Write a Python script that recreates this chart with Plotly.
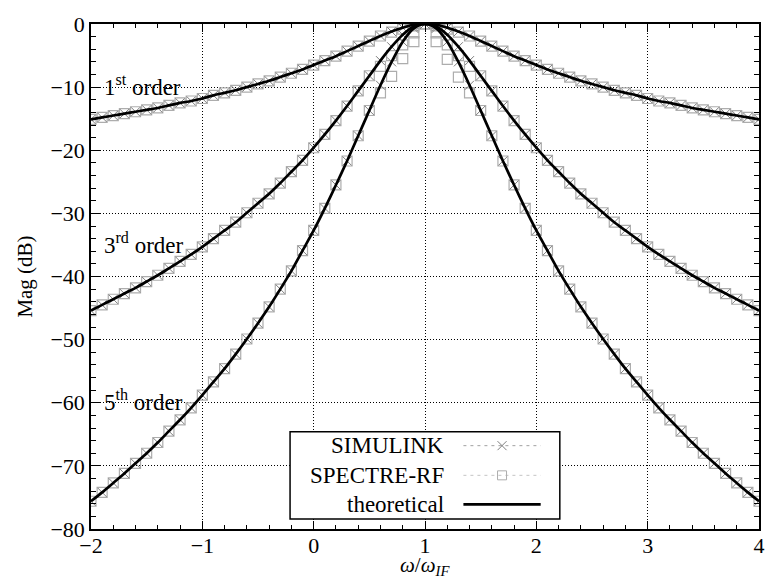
import plotly.graph_objects as go

# ---------------- data ----------------
omega = [-2.0, -1.9, -1.8, -1.7, -1.6, -1.5, -1.4, -1.3, -1.2, -1.1,
         -1.0, -0.9, -0.8, -0.7, -0.6, -0.5, -0.4, -0.3, -0.2, -0.1,
         0.0, 0.1, 0.2, 0.3, 0.4, 0.5, 0.6, 0.7, 0.8, 0.9,
         1.0, 1.1, 1.2, 1.3, 1.4, 1.5, 1.6, 1.7, 1.8, 1.9,
         2.0, 2.1, 2.2, 2.3, 2.4, 2.5, 2.6, 2.7, 2.8, 2.9,
         3.0, 3.1, 3.2, 3.3, 3.4, 3.5, 3.6, 3.7, 3.8, 3.9, 4.0]

order1 = [-15.1, -14.8, -14.5, -14.2, -13.9, -13.6, -13.3, -12.9, -12.5, -12.2,
          -11.8, -11.3, -10.9, -10.5, -10.0, -9.5, -9.0, -8.4, -7.8, -7.2,
          -6.5, -5.8, -5.1, -4.3, -3.5, -2.7, -1.9, -1.2, -0.6, -0.1,
          0.0, -0.1, -0.6, -1.2, -1.9, -2.7, -3.5, -4.3, -5.1, -5.8,
          -6.5, -7.2, -7.8, -8.4, -9.0, -9.5, -10.0, -10.5, -10.9, -11.3,
          -11.8, -12.2, -12.5, -12.9, -13.3, -13.6, -13.9, -14.2, -14.5, -14.8, -15.1]

order3 = [-45.4, -44.5, -43.6, -42.7, -41.8, -40.8, -39.8, -38.7, -37.6, -36.5,
          -35.3, -34.0, -32.7, -31.4, -29.9, -28.4, -26.9, -25.2, -23.4, -21.6,
          -19.6, -17.5, -15.3, -13.0, -10.6, -8.2, -5.8, -3.6, -1.7, -0.4,
          0.0, -0.4, -1.7, -3.6, -5.8, -8.2, -10.6, -13.0, -15.3, -17.5,
          -19.6, -21.6, -23.4, -25.2, -26.9, -28.4, -29.9, -31.4, -32.7, -34.0,
          -35.3, -36.5, -37.6, -38.7, -39.8, -40.8, -41.8, -42.7, -43.6, -44.5, -45.4]

order5 = [-75.6, -74.2, -72.7, -71.2, -69.6, -68.0, -66.3, -64.5, -62.7, -60.8,
          -58.8, -56.7, -54.6, -52.3, -49.9, -47.4, -44.8, -42.0, -39.1, -35.9,
          -32.7, -29.2, -25.5, -21.7, -17.7, -13.7, -9.7, -6.0, -2.8, -0.7,
          0.0, -0.7, -2.8, -6.0, -9.7, -13.7, -17.7, -21.7, -25.5, -29.2,
          -32.7, -35.9, -39.1, -42.0, -44.8, -47.4, -49.9, -52.3, -54.6, -56.7,
          -58.8, -60.8, -62.7, -64.5, -66.3, -68.0, -69.6, -71.2, -72.7, -74.2, -75.6]

spectre1 = [-15.1, -14.8, -14.5, -14.2, -13.9, -13.6, -13.3, -12.9, -12.5, -12.2,
            -11.8, -11.3, -10.9, -10.5, -10.0, -9.5, -9.0, -8.4, -7.8, -7.2,
            -6.5, -5.8, -5.1, -4.3, -3.5, -2.7, -1.9, -1.3, -0.8, -0.3,
            0.0, -0.3, -0.8, -1.3, -1.9, -2.7, -3.5, -4.3, -5.1, -5.8,
            -6.5, -7.2, -7.8, -8.4, -9.0, -9.5, -10.0, -10.5, -10.9, -11.3,
            -11.8, -12.2, -12.5, -12.9, -13.3, -13.6, -13.9, -14.2, -14.5, -14.8, -15.1]

spectre3 = [-45.4, -44.5, -43.6, -42.7, -41.8, -40.8, -39.8, -38.7, -37.6, -36.5,
            -35.3, -34.0, -32.7, -31.4, -29.9, -28.4, -26.9, -25.2, -23.4, -21.6,
            -19.6, -17.5, -15.3, -13.0, -10.6, -8.2, -6.7, -5.0, -3.3, -1.4,
            0.0, -1.4, -3.3, -5.0, -6.7, -8.2, -10.6, -13.0, -15.3, -17.5,
            -19.6, -21.6, -23.4, -25.2, -26.9, -28.4, -29.9, -31.4, -32.7, -34.0,
            -35.3, -36.5, -37.6, -38.7, -39.8, -40.8, -41.8, -42.7, -43.6, -44.5, -45.4]

spectre5 = [-75.6, -74.2, -72.7, -71.2, -69.6, -68.0, -66.3, -64.5, -62.7, -60.8,
            -58.8, -56.7, -54.6, -52.3, -49.9, -47.4, -44.8, -42.0, -39.1, -35.9,
            -32.7, -29.2, -25.5, -21.7, -17.7, -13.7, -10.9, -8.3, -5.5, -2.8,
            0.0, -2.8, -5.6, -8.4, -10.9, -13.7, -17.7, -21.7, -25.5, -29.2,
            -32.7, -35.9, -39.1, -42.0, -44.8, -47.4, -49.9, -52.3, -54.6, -56.7,
            -58.8, -60.8, -62.7, -64.5, -66.3, -68.0, -69.6, -71.2, -72.7, -74.2, -75.6]

series_names = ["SIMULINK", "SPECTRE-RF", "theoretical"]
order_labels = ["1<sup>st</sup> order", "3<sup>rd</sup> order", "5<sup>th</sup> order"]
order_label_y = [-9.8, -34.8, -59.7]
x_title = "<i>ω</i>/<i>ω</i><sub><i>IF</i></sub>"
y_title = "Mag (dB)"

# ---------------- styling ----------------
FONT = "Liberation Serif"
SIM_COLOR = "#7e7e7e"
SPE_COLOR = "#adadad"
DASH = "3px,4px"

fig = go.Figure()

sims = [order1, order3, order5]
spes = [spectre1, spectre3, spectre5]

for s in spes:
    fig.add_trace(go.Scatter(
        x=omega, y=s, mode="markers", showlegend=False,
        marker=dict(symbol="square-open", size=10, color=SPE_COLOR,
                    line=dict(width=1.2, color=SPE_COLOR)),
        hoverinfo="skip"))
for s in sims:
    fig.add_trace(go.Scatter(
        x=omega, y=s, mode="markers", showlegend=False,
        marker=dict(symbol="x-thin-open", size=9, color=SIM_COLOR,
                    line=dict(width=1, color=SIM_COLOR)),
        hoverinfo="skip"))
for s in sims:
    fig.add_trace(go.Scatter(
        x=omega, y=s, mode="lines", showlegend=False,
        line=dict(color="black", width=2.7, shape="spline", smoothing=0.8),
        hoverinfo="skip"))

# ---------------- hand-made legend (text left, sample right) ----------------
LEG_BOX = dict(x0=-0.212, x1=2.211, y0=-78.4, y1=-64.6)
LEG_TEXT_X = 1.19
LEG_ROWS = [-66.8, -71.5, -76.1]
LEG_LINE_X = [1.345, 2.039]
LEG_MARK_X = 1.692

fig.add_shape(type="rect", xref="x", yref="y", layer="between",
              line=dict(color="black", width=1.5), fillcolor="white", **LEG_BOX)

sample_styles = [
    dict(line=dict(color="#a0a0a0", width=1, dash=DASH),
         marker=dict(symbol="x-thin-open", size=9, color=SIM_COLOR,
                     line=dict(width=1, color=SIM_COLOR))),
    dict(line=dict(color="#c4c4c4", width=1, dash=DASH),
         marker=dict(symbol="square-open", size=9, color=SPE_COLOR,
                     line=dict(width=1, color=SPE_COLOR))),
    dict(line=dict(color="black", width=2.8), marker=None),
]
for name, yr, st in zip(series_names, LEG_ROWS, sample_styles):
    fig.add_trace(go.Scatter(x=LEG_LINE_X, y=[yr, yr], mode="lines",
                             line=st["line"], showlegend=False, hoverinfo="skip"))
    if st["marker"] is not None:
        fig.add_trace(go.Scatter(x=[LEG_MARK_X], y=[yr], mode="markers",
                                 marker=st["marker"], showlegend=False,
                                 hoverinfo="skip"))
    fig.add_annotation(x=LEG_TEXT_X, y=yr, xref="x", yref="y", text=name,
                       showarrow=False, xanchor="right", yanchor="middle",
                       font=dict(family=FONT, size=23, color="black"))

for lab, yl in zip(order_labels, order_label_y):
    fig.add_annotation(x=-1.9, y=yl, xref="x", yref="y", text=lab,
                       showarrow=False, xanchor="left", yanchor="middle",
                       font=dict(family=FONT, size=23, color="black"))

# x-axis title placed below the tick labels
fig.add_annotation(x=0.5, y=-0.103, xref="paper", yref="paper", text=x_title,
                   showarrow=False, xanchor="center", yanchor="bottom",
                   font=dict(family=FONT, size=21, color="black"))

axis_common = dict(
    showline=True, linecolor="black", linewidth=1.5, mirror="allticks",
    ticks="inside", tickcolor="black", tickwidth=1,
    showgrid=True, gridcolor="black", gridwidth=1, griddash="1px,2px",
    zeroline=False, ticklabeloverflow="allow",
    tickfont=dict(family=FONT, size=22, color="black"),
)

fig.update_xaxes(range=[-2, 4], dtick=1, tick0=0, ticklen=8,
                 ticklabelstandoff=-4,
                 minor=dict(dtick=0.2, ticks="inside", ticklen=4,
                            tickcolor="black", showgrid=False),
                 **axis_common)
fig.update_yaxes(range=[-80, 0], dtick=10, tick0=0, ticklen=9,
                 minor=dict(dtick=2, ticks="inside", ticklen=5,
                            tickcolor="black", showgrid=False),
                 title=dict(text=y_title,
                            font=dict(family=FONT, size=21, color="black"),
                            standoff=12),
                 **axis_common)

fig.update_layout(
    width=766, height=582,
    margin=dict(l=91, r=1, t=24, b=53),
    paper_bgcolor="white", plot_bgcolor="white",
    showlegend=False,
    font=dict(family=FONT, size=22, color="black"),
)

fig.write_html("out.html")
